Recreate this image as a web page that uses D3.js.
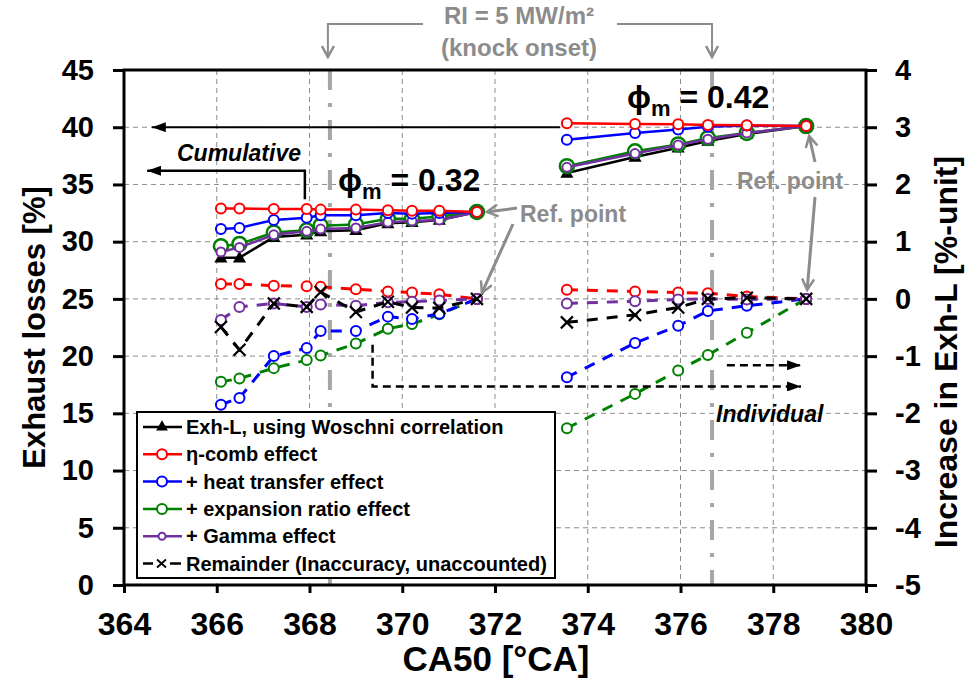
<!DOCTYPE html>
<html>
<head>
<meta charset="utf-8">
<script src="https://cdn.jsdelivr.net/npm/d3@7"></script>
<style>
  body { margin: 0; background: #fff; }
  svg { display: block; font-family: "Liberation Sans", Arial, sans-serif; }
</style>
</head>
<body>
<svg id="chart" width="967" height="684"></svg>
<script>
// CA50 operating points of the two load groups
const ca50Low  = [366.09, 366.49, 367.23, 367.94, 368.24, 369.0, 369.69, 370.21, 370.80, 371.61];
const ca50High = [373.55, 375.02, 375.95, 376.59, 377.43, 378.71];

// Cumulative exhaust losses [%] (left axis)
const woschniLow  = [28.6, 28.6, 30.4, 30.6, 30.9, 31.0, 31.6, 31.7, 31.9, 32.6];
const woschniHigh = [36.0, 37.4, 38.2, 38.8, 39.4, 40.1];
const etaCombLow  = [32.9, 32.9, 32.85, 32.85, 32.8, 32.8, 32.75, 32.7, 32.7, 32.6];
const etaCombHigh = [40.34, 40.28, 40.25, 40.2, 40.17, 40.1];
const heatLow     = [31.1, 31.2, 31.9, 32.1, 32.3, 32.3, 32.5, 32.45, 32.5, 32.6];
const heatHigh    = [38.9, 39.5, 39.8, 40.05, 40.14, 40.1];
const expLow      = [29.6, 29.8, 30.8, 31.0, 31.4, 31.5, 32.0, 32.0, 32.2, 32.6];
const expHigh     = [36.6, 37.9, 38.5, 39.05, 39.5, 40.1];
const gammaLow    = [29.1, 29.5, 30.6, 30.9, 31.1, 31.2, 31.7, 31.8, 31.9, 32.6];
const gammaHigh   = [36.5, 37.7, 38.45, 38.95, 39.5, 40.1];

// Individual increase in Exh-L [%-unit] (right axis)
const dEtaLow    = [0.26, 0.26, 0.23, 0.22, 0.21, 0.17, 0.13, 0.11, 0.08, 0];
const dEtaHigh   = [0.16, 0.13, 0.11, 0.10, 0.04, 0];
const dHeatLow   = [-1.85, -1.73, -1.0, -0.86, -0.56, -0.56, -0.31, -0.35, -0.26, 0];
const dHeatHigh  = [-1.37, -0.77, -0.47, -0.21, -0.12, 0];
const dExpLow    = [-1.45, -1.39, -1.21, -1.07, -0.99, -0.78, -0.52, -0.44, -0.27, 0];
const dExpHigh   = [-2.26, -1.66, -1.25, -0.98, -0.59, 0];
const dGammaLow  = [-0.37, -0.14, -0.08, -0.14, -0.10, -0.12, -0.06, -0.05, -0.03, 0];
const dGammaHigh = [-0.08, -0.04, -0.01, 0.0, -0.01, 0];
const dRemLow    = [-0.49, -0.89, -0.08, -0.14, 0.12, -0.23, -0.05, -0.15, -0.16, 0];
const dRemHigh   = [-0.41, -0.28, -0.15, 0.0, 0.02, 0];

// Axis ticks
const xTicks  = [364, 366, 368, 370, 372, 374, 376, 378, 380];
const yLTicks = [0, 5, 10, 15, 20, 25, 30, 35, 40, 45];
const yRTicks = [-5, -4, -3, -2, -1, 0, 1, 2, 3, 4];
const knockCA = [368.44, 376.68];

const svg = d3.select("#chart");
const x  = d3.scaleLinear([364, 380], [124, 866]);
const yL = d3.scaleLinear([0, 45], [585, 70]);
const yR = d3.scaleLinear([-5, 4], [585, 70]);

const RED = "#ff0000", BLUE = "#0000ff", GREEN = "#008000", PURPLE = "#7030a0", BLACK = "#000";
const GREY = "#8c8c8c";

// grid
const grid = svg.append("g").attr("stroke", "#8c8c8c").attr("stroke-width", 1).attr("stroke-dasharray", "5,4");
xTicks.slice(1, -1).forEach(t => grid.append("line").attr("x1", x(t)).attr("x2", x(t)).attr("y1", yL(45)).attr("y2", yL(0)));
yLTicks.slice(1, -1).forEach(t => grid.append("line").attr("x1", x(364)).attr("x2", x(380)).attr("y1", yL(t)).attr("y2", yL(t)));

// knock onset markers
knockCA.forEach(c => svg.append("line")
  .attr("x1", x(c)).attr("x2", x(c)).attr("y1", yL(45)).attr("y2", yL(0))
  .attr("stroke", "#a6a6a6").attr("stroke-width", 4).attr("stroke-dasharray", "20,13,4,13"));

// axes
function styleAxis(size) {
  return g => {
    g.selectAll(".domain").remove();
    g.selectAll(".tick line").attr("stroke", "#000").attr("stroke-width", 3);
    g.selectAll(".tick text").attr("font-size", size).attr("font-weight", "bold").attr("fill", "#000");
  };
}
const plain = d => String(d);
svg.append("g").attr("transform", `translate(0,${yL(0)})`)
  .call(d3.axisBottom(x).tickValues(xTicks).tickSize(8).tickPadding(19).tickFormat(plain))
  .call(styleAxis(32));
svg.append("g").attr("transform", `translate(${x(364)},0)`)
  .call(d3.axisLeft(yL).tickValues(yLTicks).tickSize(11).tickPadding(19).tickFormat(plain))
  .call(styleAxis(29));
svg.append("g").attr("transform", `translate(${x(380)},0)`)
  .call(d3.axisRight(yR).tickValues(yRTicks).tickSize(11).tickPadding(18).tickFormat(plain))
  .call(styleAxis(29));

// frame
svg.append("rect").attr("x", x(364)).attr("y", yL(45)).attr("width", x(380) - x(364)).attr("height", yL(0) - yL(45))
  .attr("fill", "none").attr("stroke", "#000").attr("stroke-width", 3);

// axis titles
svg.append("text").attr("x", 496).attr("y", 671).attr("text-anchor", "middle")
  .attr("font-size", 35).attr("font-weight", "bold").text("CA50 [°CA]");
svg.append("text").attr("transform", `translate(45,${(yL(0) + yL(45)) / 2}) rotate(-90)`).attr("text-anchor", "middle")
  .attr("font-size", 31).attr("font-weight", "bold").text("Exhaust losses [%]");
svg.append("text").attr("transform", `translate(957,352) rotate(-90)`).attr("text-anchor", "middle")
  .attr("font-size", 32).attr("font-weight", "bold").text("Increase in Exh-L [%-unit]");

// arrowheads
const defs = svg.append("defs");
defs.append("marker").attr("id", "ahBlack").attr("viewBox", "0 0 14 10").attr("refX", 14).attr("refY", 5)
  .attr("markerWidth", 14).attr("markerHeight", 10).attr("markerUnits", "userSpaceOnUse").attr("orient", "auto")
  .append("path").attr("d", "M0,0L14,5L0,10Z").attr("fill", "#000");
defs.append("marker").attr("id", "ahGreyOpen").attr("viewBox", "0 0 14 14").attr("refX", 12).attr("refY", 7)
  .attr("markerWidth", 14).attr("markerHeight", 14).attr("markerUnits", "userSpaceOnUse").attr("orient", "auto")
  .append("path").attr("d", "M1,1L12,7L1,13").attr("fill", "none").attr("stroke", GREY).attr("stroke-width", 2.5);

// series
function drawSeries(xs, ys, scale, opt) {
  const pts = xs.map((c, i) => [x(c), scale(ys[i])]);
  const g = svg.append("g");
  g.append("path").attr("d", d3.line()(pts)).attr("fill", "none").attr("stroke", opt.color)
    .attr("stroke-width", opt.width || 2.5).attr("stroke-dasharray", opt.dash || null);
  if (opt.marker === "circle") {
    g.selectAll("circle").data(pts).join("circle").attr("cx", d => d[0]).attr("cy", d => d[1])
      .attr("r", opt.r || 5).attr("fill", "#fff").attr("stroke", opt.color).attr("stroke-width", opt.mw || 2);
  } else if (opt.marker === "triangle") {
    g.selectAll("path.m").data(pts).join("path").attr("class", "m")
      .attr("d", d3.symbol(d3.symbolTriangle, 75)).attr("transform", d => `translate(${d[0]},${d[1] + 1})`).attr("fill", opt.color);
  } else if (opt.marker === "cross") {
    g.selectAll("path.m").data(pts).join("path").attr("class", "m")
      .attr("d", "M-6,-6L6,6M-6,6L6,-6").attr("transform", d => `translate(${d[0]},${d[1]})`)
      .attr("stroke", opt.color).attr("stroke-width", 2.2);
  }
}
const DASH = "11,9";
// cumulative (solid, left axis)
[[ca50Low, woschniLow], [ca50High, woschniHigh]].forEach(([a, b]) => drawSeries(a, b, yL, { color: BLACK, marker: "triangle" }));
[[ca50Low, expLow], [ca50High, expHigh]].forEach(([a, b]) => drawSeries(a, b, yL, { color: GREEN, marker: "circle", r: 7, mw: 2.5 }));
[[ca50Low, gammaLow], [ca50High, gammaHigh]].forEach(([a, b]) => drawSeries(a, b, yL, { color: PURPLE, marker: "circle", r: 4.5, mw: 2 }));
[[ca50Low, heatLow], [ca50High, heatHigh]].forEach(([a, b]) => drawSeries(a, b, yL, { color: BLUE, marker: "circle" }));
[[ca50Low, etaCombLow], [ca50High, etaCombHigh]].forEach(([a, b]) => drawSeries(a, b, yL, { color: RED, marker: "circle" }));
// individual (dashed, right axis)
[[ca50Low, dExpLow], [ca50High, dExpHigh]].forEach(([a, b]) => drawSeries(a, b, yR, { color: GREEN, marker: "circle", dash: DASH, width: 3 }));
[[ca50Low, dHeatLow], [ca50High, dHeatHigh]].forEach(([a, b]) => drawSeries(a, b, yR, { color: BLUE, marker: "circle", dash: DASH, width: 3 }));
[[ca50Low, dEtaLow], [ca50High, dEtaHigh]].forEach(([a, b]) => drawSeries(a, b, yR, { color: RED, marker: "circle", dash: DASH, width: 3 }));
[[ca50Low, dGammaLow], [ca50High, dGammaHigh]].forEach(([a, b]) => drawSeries(a, b, yR, { color: PURPLE, marker: "circle", dash: DASH, width: 3 }));
[[ca50Low, dRemLow], [ca50High, dRemHigh]].forEach(([a, b]) => drawSeries(a, b, yR, { color: BLACK, marker: "cross", dash: DASH, width: 3 }));

// cumulative pointer arrows
svg.append("path").attr("d", `M${x(373.4)},${yL(40)}H${x(364.6)}`).attr("stroke", "#000").attr("stroke-width", 2)
  .attr("fill", "none").attr("marker-end", "url(#ahBlack)");
svg.append("path").attr("d", `M${x(367.9)},${yL(33.7)}V${yL(36.2)}H${x(364.5)}`).attr("stroke", "#000").attr("stroke-width", 2.5)
  .attr("fill", "none").attr("marker-end", "url(#ahBlack)");
svg.append("text").attr("x", 177).attr("y", 161).attr("font-size", 23).attr("font-weight", "bold").attr("font-style", "italic").text("Cumulative");

// individual pointer arrows
svg.append("path").attr("d", `M${x(369.36)},${yR(-0.8)}V${yR(-1.53)}H${x(378.6)}`).attr("stroke", "#000").attr("stroke-width", 2.5)
  .attr("stroke-dasharray", "8,5").attr("fill", "none").attr("marker-end", "url(#ahBlack)");
svg.append("path").attr("d", `M${x(377.0)},${yR(-1.16)}H${x(378.6)}`).attr("stroke", "#000").attr("stroke-width", 2.5)
  .attr("stroke-dasharray", "8,5").attr("fill", "none").attr("marker-end", "url(#ahBlack)");
svg.append("text").attr("x", 716).attr("y", 422).attr("font-size", 23).attr("font-weight", "bold").attr("font-style", "italic").text("Individual");

// phi labels
function phiLabel(px, py, val) {
  const t = svg.append("text").attr("x", px).attr("y", py).attr("font-size", 32).attr("font-weight", "bold");
  t.append("tspan").text("ϕ");
  t.append("tspan").attr("font-size", 22).attr("dy", 8).text("m");
  t.append("tspan").attr("dy", -8).text(" = " + val);
}
phiLabel(338, 191, "0.32");
phiLabel(627, 108, "0.42");

// reference point callouts
function refText(px, py) {
  svg.append("text").attr("x", px).attr("y", py).attr("font-size", 23).attr("font-weight", "bold").attr("fill", GREY).text("Ref. point");
}
refText(520, 222);
refText(737, 189);
function greyArrow(x1, y1, x2, y2) {
  svg.append("line").attr("x1", x1).attr("y1", y1).attr("x2", x2).attr("y2", y2)
    .attr("stroke", GREY).attr("stroke-width", 3).attr("marker-end", "url(#ahGreyOpen)");
}
greyArrow(517, 208, x(371.61) + 10, yL(32.6));
greyArrow(513, 224, x(371.61) + 5, yR(0) - 6);
greyArrow(815, 162, x(378.71) + 3, yL(40.1) + 10);
greyArrow(815, 197, x(378.71) + 1, yR(0) - 9);

// knock onset label and bracket
svg.append("text").attr("x", 519).attr("y", 24).attr("text-anchor", "middle").attr("font-size", 24).attr("font-weight", "bold").attr("fill", GREY).text("RI = 5 MW/m²");
svg.append("text").attr("x", 519).attr("y", 56).attr("text-anchor", "middle").attr("font-size", 24).attr("font-weight", "bold").attr("fill", GREY).text("(knock onset)");
svg.append("path").attr("d", `M423,24H${x(knockCA[0]) - 2}V57`).attr("fill", "none").attr("stroke", GREY).attr("stroke-width", 2)
  .attr("marker-end", "url(#ahGreyOpen)");
svg.append("path").attr("d", `M617,24H${x(knockCA[1])}V57`).attr("fill", "none").attr("stroke", GREY).attr("stroke-width", 2)
  .attr("marker-end", "url(#ahGreyOpen)");

// legend
const legendItems = [
  { label: "Exh-L, using Woschni correlation", color: BLACK, marker: "triangle" },
  { label: "η-comb effect", color: RED, marker: "circle" },
  { label: "+ heat transfer effect", color: BLUE, marker: "circle" },
  { label: "+ expansion ratio effect", color: GREEN, marker: "circle" },
  { label: "+ Gamma effect", color: PURPLE, marker: "small" },
  { label: "Remainder (Inaccuracy, unaccounted)", color: BLACK, marker: "cross" }
];
const lg = svg.append("g");
lg.append("rect").attr("x", 137).attr("y", 412).attr("width", 418).attr("height", 166).attr("fill", "#fff").attr("stroke", "#000").attr("stroke-width", 2);
legendItems.forEach((it, i) => {
  const cy = 427 + i * 27.3;
  const g = lg.append("g");
  if (it.marker === "cross") {
    g.append("line").attr("x1", 143).attr("x2", 153).attr("y1", cy).attr("y2", cy).attr("stroke", it.color).attr("stroke-width", 2.5);
    g.append("line").attr("x1", 170).attr("x2", 181).attr("y1", cy).attr("y2", cy).attr("stroke", it.color).attr("stroke-width", 2.5);
    g.append("path").attr("d", `M157,${cy - 4}L166,${cy + 4}M157,${cy + 4}L166,${cy - 4}`).attr("stroke", it.color).attr("stroke-width", 1.8);
  } else {
    g.append("line").attr("x1", 143).attr("x2", 182).attr("y1", cy).attr("y2", cy).attr("stroke", it.color).attr("stroke-width", 2.5);
    if (it.marker === "triangle") {
      g.append("path").attr("d", d3.symbol(d3.symbolTriangle, 60)).attr("transform", `translate(162,${cy})`).attr("fill", it.color);
    } else {
      g.append("circle").attr("cx", 162).attr("cy", cy).attr("r", it.marker === "small" ? 3.5 : 5)
        .attr("fill", "#fff").attr("stroke", it.color).attr("stroke-width", 2);
    }
  }
  g.append("text").attr("x", 186).attr("y", cy + 7).attr("font-size", 20).attr("font-weight", "bold").text(it.label);
});
</script>
</body>
</html>
